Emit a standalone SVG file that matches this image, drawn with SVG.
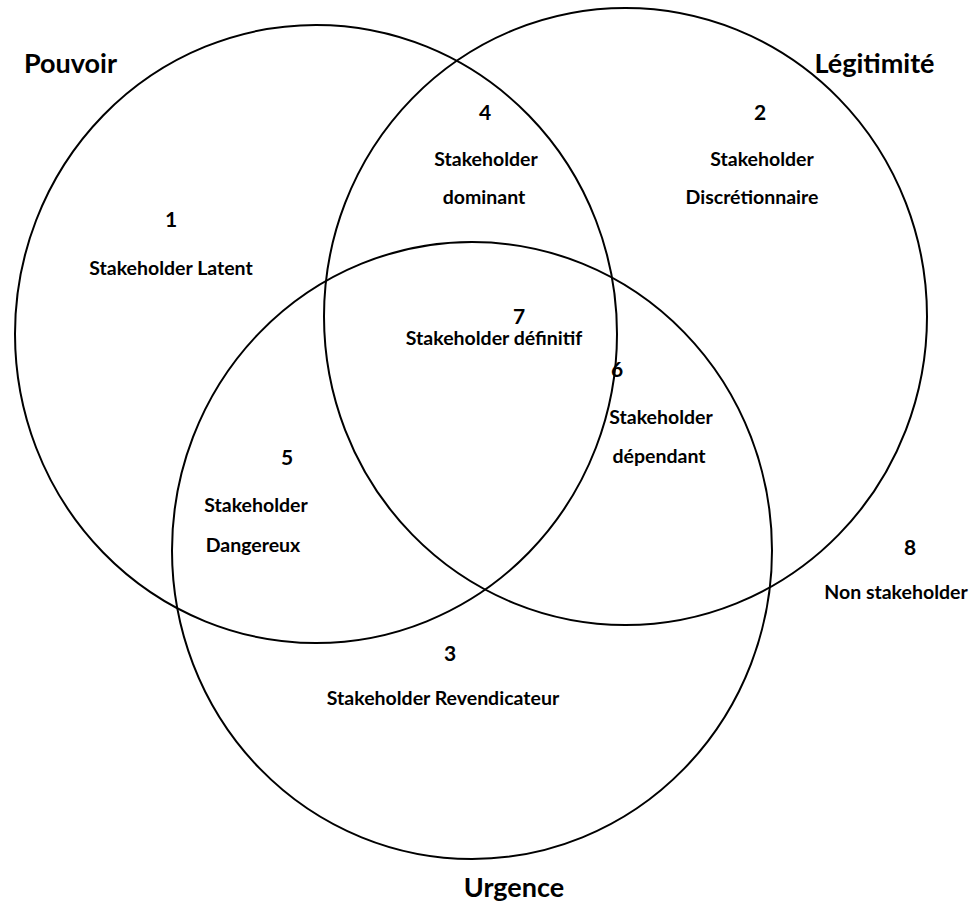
<svg xmlns="http://www.w3.org/2000/svg" width="979" height="904" viewBox="0 0 979 904">
<style>
.c{fill:none;stroke:#000;stroke-width:2}
text{font-family:Lato,"Liberation Sans",sans-serif;font-weight:bold;fill:#000;text-anchor:middle}
.t{font-size:27px}
.n{font-size:21px}
.l{font-size:19.5px}
</style>
<rect width="979" height="904" fill="#fff"/>
<g id="connectors"></g>
<g id="pouvoir"><ellipse class="c" cx="316" cy="334" rx="301" ry="309"/><text class="t" x="70.5" y="73">Pouvoir</text></g>
<g id="legitimite"><ellipse class="c" cx="625.5" cy="316.5" rx="301.5" ry="308.5"/><text class="t" x="874.5" y="73">Légitimité</text></g>
<g id="urgence"><ellipse class="c" cx="472" cy="550.5" rx="300" ry="308.5"/><text class="t" x="514" y="897">Urgence</text></g>
<g id="r1"><text class="n" x="171" y="227">1</text><text class="l" x="171" y="275">Stakeholder Latent</text></g>
<g id="r2"><text class="n" x="760" y="120">2</text><text class="l" x="762" y="166">Stakeholder</text><text class="l" x="752" y="204">Discrétionnaire</text></g>
<g id="r3"><text class="n" x="450" y="661">3</text><text class="l" x="443" y="705">Stakeholder Revendicateur</text></g>
<g id="r4"><text class="n" x="485" y="120">4</text><text class="l" x="486" y="166">Stakeholder</text><text class="l" x="484" y="204">dominant</text></g>
<g id="r5"><text class="n" x="287" y="465">5</text><text class="l" x="256" y="512">Stakeholder</text><text class="l" x="253" y="552">Dangereux</text></g>
<g id="r6"><text class="n" x="617" y="377">6</text><text class="l" x="661" y="424">Stakeholder</text><text class="l" x="659" y="463">dépendant</text></g>
<g id="r7"><text class="n" x="519" y="324">7</text><text class="l" x="494" y="345">Stakeholder définitif</text></g>
<g id="r8"><text class="n" x="910" y="555">8</text><text class="l" x="896" y="599">Non stakeholder</text></g>
</svg>
